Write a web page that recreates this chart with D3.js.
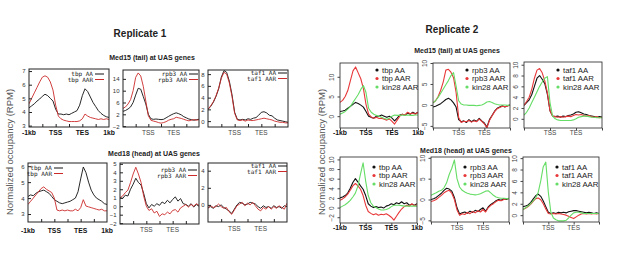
<!DOCTYPE html>
<html><head><meta charset="utf-8">
<script src="https://cdn.jsdelivr.net/npm/d3@7"></script>
<style>body{margin:0;background:#fff}svg{display:block}</style>
</head><body><svg id="c" width="617" height="256"></svg>
<script>
// ---- data ----
const positions = [0,0.1,0.2,0.3,0.4,0.5,0.6,0.7,0.8,0.9,1.0,1.1,1.2,1.3,1.4,1.5,1.6,1.7,1.8,1.9,2.0,2.1,2.2,2.3,2.4,2.5,2.6,2.7,2.8,2.9,3.0];
const fullTickLabels = ["-1kb","TSS","TES","1kb"];
const innerTickLabels = ["TSS","TES"];

// Replicate 1, Med15 (tail)
const r1_med15_tbp_AA   = [4.3,4.45,4.6,4.8,4.95,5.15,5.3,5.2,5.0,4.8,4.2,3.85,3.85,3.8,3.85,3.8,3.9,4.0,4.1,4.5,5.2,5.7,5.5,5.1,4.7,4.4,4.1,3.9,3.75,3.65,3.6];
const r1_med15_tbp_AAR  = [4.6,5.0,5.4,5.8,6.2,6.55,6.65,6.55,6.2,5.6,4.5,3.7,3.5,3.4,3.35,3.3,3.3,3.3,3.3,3.35,3.5,3.85,3.7,3.6,3.55,3.5,3.45,3.5,3.45,3.5,3.45];
const r1_med15_rpb3_AA  = [3.0,3.3,3.8,4.5,6.0,8.5,10.8,10.5,8.0,5.5,2.0,0.5,0.3,0.4,0.3,0.2,0.3,0.8,1.3,1.8,2.2,2.5,2.2,1.8,1.2,0.8,0.4,0.2,0.0,0.2,0.3];
const r1_med15_rpb3_AAR = [4.0,4.5,5.5,7.0,10.0,14.5,16.0,15.0,11.5,6.5,1.5,0.0,-0.3,-0.5,-0.8,-1.0,-0.8,-0.5,0.0,0.3,0.5,1.0,0.8,0.6,0.3,0.0,-0.2,0.0,0.2,0.0,0.2];
const r1_med15_taf1_AA  = [2.0,2.5,3.2,4.2,5.5,7.5,8.6,8.3,6.8,4.5,1.5,0.3,0.2,0.3,0.2,0.4,0.3,0.5,0.6,1.0,1.5,1.6,1.4,1.0,0.9,0.5,0.2,0.1,0.0,-0.1,-0.2];
const r1_med15_taf1_AAR = [2.0,2.6,3.3,4.3,5.6,7.3,8.3,8.0,6.5,4.2,1.3,0.2,0.1,0.2,0.0,0.2,0.1,0.1,0.2,0.3,0.4,0.5,0.4,0.3,0.2,0.0,-0.1,-0.2,-0.2,-0.3,-0.3];
// Replicate 1, Med18 (head)
const r1_med18_tbp_AA   = [4.1,4.2,4.15,4.3,4.4,4.45,4.5,4.4,4.3,4.1,3.9,3.8,3.7,3.65,3.7,3.75,3.8,3.9,4.0,4.4,5.2,5.95,5.6,5.0,4.5,4.2,4.0,3.9,3.8,3.65,3.6];
const r1_med18_tbp_AAR  = [3.6,3.8,4.0,4.2,4.4,4.6,4.7,4.55,4.45,4.35,4.0,3.25,3.2,3.25,3.2,3.25,3.2,3.2,3.3,3.2,3.4,3.9,3.5,3.45,3.4,3.35,3.3,3.25,3.3,3.2,3.2];
const r1_med18_rpb3_AA  = [1.0,0.9,1.3,1.2,2.0,2.6,3.3,2.8,2.5,1.5,0.3,-0.2,0.2,0.0,0.3,0.1,0.5,0.3,0.7,0.4,0.8,1.1,0.6,0.9,0.3,0.2,0.0,0.3,-0.1,0.2,0.0];
const r1_med18_rpb3_AAR = [1.0,1.2,1.6,1.9,2.8,3.8,4.6,3.8,2.8,1.2,0.0,-0.5,-0.3,-0.8,-0.6,-1.2,-0.9,-1.0,-0.7,-0.9,-0.5,-0.4,-0.7,-0.2,0.0,0.2,-0.1,0.2,0.0,0.3,0.1];
const r1_med18_taf1_AA  = [-0.3,-0.2,-0.4,-0.1,-0.2,0.0,-0.3,-0.5,-0.7,-1.0,-0.5,0.0,0.3,0.2,0.0,0.1,0.3,0.2,0.1,-0.2,-0.4,-0.1,-0.3,-0.2,-0.4,-0.1,-0.3,-0.2,-0.4,-0.1,-0.2];
const r1_med18_taf1_AAR = [-0.4,-0.1,-0.3,-0.2,0.1,-0.2,-0.4,-0.3,-0.8,-1.1,-0.6,-0.1,0.1,0.3,-0.1,0.2,0.0,0.3,-0.1,-0.5,-0.7,-0.3,-0.5,-0.2,-0.5,-0.2,-0.4,-0.1,-0.3,-0.5,0.2];
// Replicate 2, Med15 (tail)
const r2_med15_tbp_AA    = [1.2,1.3,1.5,2.0,2.5,3.0,3.5,3.2,2.8,2.3,1.2,0.0,-0.3,-0.5,0.0,0.0,0.3,0.0,-0.3,0.0,-0.5,-1.2,-0.5,0.3,0.5,0.2,0.8,0.5,1.0,0.6,1.0];
const r2_med15_tbp_AAR   = [3.5,4.0,5.0,6.5,9.0,11.5,12.5,11.0,9.5,7.0,3.0,0.5,-0.2,-0.5,-0.3,-0.6,-0.5,-0.8,-1.0,-0.7,-1.3,-2.0,-1.0,0.0,0.5,0.3,1.0,0.6,0.8,0.5,1.0];
const r2_med15_tbp_kin28 = [0.5,0.8,1.2,1.8,2.5,3.5,4.5,5.5,6.8,7.8,6.0,2.0,1.0,0.5,0.2,0.0,-0.3,-0.6,-0.8,-0.5,0.0,0.3,0.2,0.2,0.3,0.2,0.3,0.2,0.2,0.3,0.3];
const r2_med15_rpb3_AA    = [-0.5,-0.3,0.0,0.3,0.8,1.3,1.6,1.2,0.5,-0.5,-3.5,-4.0,-3.8,-4.2,-3.5,-4.0,-3.6,-3.9,-3.2,-3.8,-4.3,-5.3,-3.5,-2.5,-1.5,-0.8,-0.5,-0.2,-0.5,-0.2,0.0];
const r2_med15_rpb3_AAR   = [0.5,1.0,2.0,3.5,5.5,8.3,8.5,7.8,6.5,3.0,-3.0,-4.2,-3.9,-4.0,-3.7,-4.1,-3.8,-4.0,-3.4,-3.9,-4.5,-5.5,-3.7,-2.6,-1.6,-0.9,-0.6,-0.3,-0.4,-0.3,0.0];
const r2_med15_rpb3_kin28 = [0.5,1.0,1.8,2.8,3.8,4.8,5.8,7.0,7.7,4.5,1.0,0.2,0.0,0.0,-0.1,-0.1,-0.1,-0.2,-0.1,0.0,0.3,0.7,0.8,0.6,0.3,0.1,0.0,0.0,0.0,-0.1,0.0];
const r2_med15_taf1_AA    = [2.5,3.0,3.5,4.5,6.0,7.5,8.0,7.3,6.5,4.5,1.5,0.5,0.4,0.5,0.3,0.5,0.4,0.6,0.7,0.9,1.2,1.3,1.1,0.9,0.8,0.6,0.5,0.4,0.3,0.4,0.3];
const r2_med15_taf1_AAR   = [2.5,3.2,4.0,5.5,7.5,9.0,9.3,8.5,7.0,4.8,1.5,0.5,0.4,0.3,0.4,0.3,0.4,0.5,0.4,0.6,0.8,0.7,0.8,0.6,0.5,0.6,0.4,0.3,0.4,0.2,0.3];
const r2_med15_taf1_kin28 = [0.7,1.2,2.0,3.0,4.0,5.0,6.0,6.8,7.5,7.8,3.0,0.5,0.0,-0.2,-0.3,-0.3,-0.3,-0.3,-0.3,-0.2,0.0,0.3,0.4,0.5,0.5,0.4,0.3,0.3,0.2,0.2,0.2];
// Replicate 2, Med18 (head)
const r2_med18_tbp_AA    = [2.0,2.2,2.5,3.0,4.0,5.2,6.0,5.3,4.5,3.8,2.5,0.8,0.3,0.0,0.2,0.0,0.1,-0.1,0.3,0.5,0.8,0.6,1.0,0.8,1.2,0.8,1.0,0.5,0.7,0.5,0.8];
const r2_med18_tbp_AAR   = [1.5,1.8,2.2,2.8,3.6,4.5,5.0,4.5,3.8,2.5,0.5,-0.8,-1.2,-1.5,-1.3,-1.6,-1.4,-1.5,-1.3,-1.6,-2.0,-2.6,-1.8,-1.0,-0.3,0.2,0.5,0.3,0.8,0.4,0.6];
const r2_med18_tbp_kin28 = [0.0,0.3,0.6,1.0,1.5,2.2,3.0,4.5,7.0,9.3,5.5,2.5,1.0,0.3,0.0,-0.3,-0.5,-0.5,-0.4,-0.2,0.2,0.5,0.5,0.5,0.4,0.3,0.3,0.3,0.3,0.3,0.3];
const r2_med18_rpb3_AA    = [0.0,0.2,0.5,1.0,1.5,2.2,2.7,2.5,2.0,0.5,-2.0,-3.5,-3.2,-3.0,-3.3,-2.8,-3.1,-2.6,-2.9,-2.4,-2.0,-2.8,-1.8,-1.2,-0.8,-0.3,0.0,-0.2,0.2,0.0,0.3];
const r2_med18_rpb3_AAR   = [-0.5,-0.3,0.0,0.5,1.0,1.6,2.0,2.2,1.5,0.0,-2.5,-3.8,-3.4,-3.6,-3.1,-3.4,-2.9,-3.2,-2.7,-3.0,-2.4,-3.0,-2.0,-1.4,-1.0,-0.5,-0.2,-0.3,0.0,0.2,0.2];
const r2_med18_rpb3_kin28 = [1.0,1.3,1.6,2.0,2.2,2.8,4.0,6.0,7.5,9.5,5.0,3.0,2.2,1.8,1.5,1.3,1.2,1.1,1.2,1.4,1.7,2.0,2.1,1.6,1.0,0.6,0.4,0.3,0.3,0.2,0.2];
const r2_med18_taf1_AA    = [1.5,1.6,1.8,2.2,2.8,3.4,3.7,3.3,2.5,1.5,0.5,0.3,0.4,0.3,0.5,0.4,0.5,0.4,0.6,0.7,0.8,0.8,0.7,0.6,0.5,0.4,0.5,0.4,0.3,0.4,0.3];
const r2_med18_taf1_AAR   = [1.0,1.2,1.5,1.9,2.4,2.9,3.0,2.7,2.0,1.1,0.3,0.2,0.3,0.2,0.3,0.2,0.1,0.0,-0.2,-0.4,-0.6,-0.3,0.0,0.2,0.3,0.2,0.3,0.2,0.3,0.2,0.3];
const r2_med18_taf1_kin28 = [1.0,1.3,1.6,2.0,2.5,3.0,4.0,6.0,8.5,9.3,4.0,0.5,-0.5,-0.8,-1.0,-1.0,-1.0,-0.9,-0.5,0.0,0.4,0.5,0.5,0.4,0.3,0.3,0.3,0.3,0.3,0.3,0.3];

// ---- layout / style ----
const C1 = {black:"#111", red:"#cc2a2a"};
const C2 = {black:"#111", red:"#e8383a", green:"#66dd66"};

const panels = [
  {st:"gp", box:[29,69,109,127], yd:[2.9,7.15], yt:[3,4,5,6,7], xl:"full", lab:135,
   ser:[["tbp AA",r1_med15_tbp_AA,C1.black],["tbp AAR",r1_med15_tbp_AAR,C1.red]], lg:[93,74]},
  {st:"gp", box:[123,70,199,127], yd:[-2.3,17], yt:[-2,2,6,10,14], xl:"inner", lab:135,
   ser:[["rpb3 AA",r1_med15_rpb3_AA,C1.black],["rpb3 AAR",r1_med15_rpb3_AAR,C1.red]], lg:[187,74]},
  {st:"gp", box:[208,70,288,127], yd:[-1,8.7], yt:[0,2,4,6,8], xl:"inner", lab:135,
   ser:[["taf1 AA",r1_med15_taf1_AA,C1.black],["taf1 AAR",r1_med15_taf1_AAR,C1.red]], lg:[276,73]},
  {st:"gp", box:[28,163,107,222], yd:[2.5,6.2], yt:[3,4,5,6], xl:"full", lab:233,
   ser:[["tbp AA",r1_med18_tbp_AA,C1.black],["tbp AAR",r1_med18_tbp_AAR,C1.red]], lg:[52,168]},
  {st:"gp", box:[120,163,199,224], yd:[-2.1,5.1], yt:[-2,-1,0,1,2,3,4,5], xl:"inner", lab:232,
   ser:[["rpb3 AA",r1_med18_rpb3_AA,C1.black],["rpb3 AAR",r1_med18_rpb3_AAR,C1.red]], lg:[186,170]},
  {st:"gp", box:[208,163,287,222], yd:[-2,4.9], yt:[0,2,4], xl:"inner", lab:231,
   ser:[["taf1 AA",r1_med18_taf1_AA,C1.black],["taf1 AAR",r1_med18_taf1_AAR,C1.red]], lg:[276,166]},
  {st:"r", box:[340,63,418,128], yd:[-3,13.5], yt:[0,5,10], xl:"full", lab:135,
   ser:[["tbp AA",r2_med15_tbp_AA,C2.black],["tbp AAR",r2_med15_tbp_AAR,C2.red],["kin28 AAR",r2_med15_tbp_kin28,C2.green]], lg:[377,70]},
  {st:"r", box:[433,63,510,128], yd:[-5.5,10], yt:[-5,0,5,10], xl:"inner", lab:135,
   ser:[["rpb3 AA",r2_med15_rpb3_AA,C2.black],["rpb3 AAR",r2_med15_rpb3_AAR,C2.red],["kin28 AAR",r2_med15_rpb3_kin28,C2.green]], lg:[467,70]},
  {st:"r", box:[524,62,602,128], yd:[-1.7,10.5], yt:[0,2,4,6,8,10], xl:"inner", lab:135,
   ser:[["taf1 AA",r2_med15_taf1_AA,C2.black],["taf1 AAR",r2_med15_taf1_AAR,C2.red],["kin28 AAR",r2_med15_taf1_kin28,C2.green]], lg:[558,70]},
  {st:"r", box:[340,157,417,223], yd:[-3.2,10.5], yt:[-2,0,2,4,6,8,10], xl:"full", lab:230,
   ser:[["tbp AA",r2_med18_tbp_AA,C2.black],["tbp AAR",r2_med18_tbp_AAR,C2.red],["kin28 AAR",r2_med18_tbp_kin28,C2.green]], lg:[374,167]},
  {st:"r", box:[431,157,509,222], yd:[-5.4,10.2], yt:[-5,0,5,10], xl:"inner", lab:230,
   ser:[["rpb3 AA",r2_med18_rpb3_AA,C2.black],["rpb3 AAR",r2_med18_rpb3_AAR,C2.red],["kin28 AAR",r2_med18_rpb3_kin28,C2.green]], lg:[465,167]},
  {st:"r", box:[523,157,599,222], yd:[-1.2,10.2], yt:[0,2,4,6,8,10], xl:"inner", lab:230,
   ser:[["taf1 AA",r2_med18_taf1_AA,C2.black],["taf1 AAR",r2_med18_taf1_AAR,C2.red],["kin28 AAR",r2_med18_taf1_kin28,C2.green]], lg:[557,167]}
];

const svg = d3.select("#c");
const SANS = "'Liberation Sans', Arial, sans-serif";
const MONO = "'DejaVu Sans Mono', monospace";

function txt(x,y,s,o={}){
  return svg.append("text").attr("x",x).attr("y",y).text(s)
    .attr("font-family",o.ff||SANS).attr("font-size",o.fs||8)
    .attr("font-weight",o.fw||"normal").attr("fill",o.fill||"#222")
    .attr("text-anchor",o.anchor||"middle");
}
txt(140,37,"Replicate 1",{fs:10,fw:"bold",fill:"#222"});
txt(452,33,"Replicate 2",{fs:10,fw:"bold",fill:"#222"});
txt(152,60,"Med15 (tail) at UAS genes",{fs:7,fw:"bold"});
txt(457,53,"Med15 (tail) at UAS genes",{fs:7,fw:"bold"});
txt(154,156,"Med18 (head) at UAS genes",{fs:7,fw:"bold"});
txt(466,153,"Med18 (head) at UAS genes",{fs:7,fw:"bold"});
txt(0,0,"Normalized occupancy (RPM)",{fs:9.5,fill:"#555"}).attr("transform","translate(13,152) rotate(-90)");
txt(0,0,"Normalized occupancy (RPM)",{fs:9.5,fill:"#555"}).attr("transform","translate(325,152) rotate(-90)");

panels.forEach(p=>{
  const [l,t,r,b] = p.box;
  const x = d3.scaleLinear().domain([0,3]).range([l,r]);
  const y = d3.scaleLinear().domain(p.yd).range([b,t]);
  const g = svg.append("g");
  const clipId = "clip"+l+"_"+t;
  svg.append("clipPath").attr("id",clipId).append("rect").attr("x",l).attr("y",t).attr("width",r-l).attr("height",b-t);

  const line = d3.line().x((d,i)=>x(positions[i])).y(d=>y(d));
  p.ser.forEach(s=>{
    g.append("path").datum(s[1]).attr("d",line).attr("fill","none")
     .attr("stroke",s[2]).attr("stroke-width",p.st==="gp"?0.9:1.1)
     .attr("stroke-linejoin","round").attr("clip-path","url(#"+clipId+")");
  });

  g.append("rect").attr("x",l).attr("y",t).attr("width",r-l).attr("height",b-t)
   .attr("fill","none").attr("stroke","#222").attr("stroke-width",p.st==="gp"?1:0.8);

  if(p.st==="gp"){
    const ya = d3.axisLeft(y).tickValues(p.yt).tickSize(-3).tickPadding(3.5).tickFormat(d3.format("d"));
    const ax = g.append("g").attr("transform",`translate(${l},0)`).call(ya);
    ax.select(".domain").remove();
    ax.selectAll("line").attr("stroke","#222");
    ax.selectAll("text").attr("font-family",SANS).attr("font-size",6).attr("fill","#333");
    const xa = d3.axisBottom(x).tickValues([0.5,1,1.5,2,2.5]).tickSize(-3).tickFormat("");
    const bx = g.append("g").attr("transform",`translate(0,${b})`).call(xa);
    bx.select(".domain").remove();
    bx.selectAll("line").attr("stroke","#222");
    p.ser.forEach((s,i)=>{
      const ly = p.lg[1] + i*5.5;
      g.append("text").attr("x",p.lg[0]).attr("y",ly+2).text(s[0])
       .attr("font-family",MONO).attr("font-size",6).attr("fill","#222").attr("text-anchor","end");
      g.append("line").attr("x1",p.lg[0]+2).attr("x2",p.lg[0]+11).attr("y1",ly).attr("y2",ly)
       .attr("stroke",s[2]).attr("stroke-width",1);
    });
  } else {
    const ya = d3.axisLeft(y).tickValues(p.yt).tickSize(2.5).tickPadding(2).tickFormat(d3.format("d"));
    const ax = g.append("g").attr("transform",`translate(${l},0)`).call(ya);
    ax.select(".domain").remove();
    ax.selectAll("line").attr("stroke","#444");
    ax.selectAll("text").attr("font-family",SANS).attr("font-size",6.5).attr("fill","#444")
      .attr("text-anchor","middle").attr("dy","0").attr("x",0)
      .attr("transform","translate(-6,0) rotate(-90)");
    const xa = d3.axisBottom(x).tickValues([0,1,2,3]).tickSize(2.5).tickFormat("");
    const bx = g.append("g").attr("transform",`translate(0,${b})`).call(xa);
    bx.select(".domain").remove();
    bx.selectAll("line").attr("stroke","#444");
    p.ser.forEach((s,i)=>{
      const ly = p.lg[1] + i*8.5;
      g.append("circle").attr("cx",p.lg[0]).attr("cy",ly).attr("r",1.6).attr("fill",s[2]);
      g.append("text").attr("x",p.lg[0]+5).attr("y",ly+2.8).text(s[0])
       .attr("font-family",SANS).attr("font-size",7.8).attr("fill","#222");
    });
  }

  if(p.xl==="full"){
    fullTickLabels.forEach((s,i)=>{
      g.append("text").attr("x",x(i)).attr("y",p.lab).text(s)
       .attr("font-family",SANS).attr("font-size",6.8).attr("font-weight","bold")
       .attr("fill","#111").attr("text-anchor","middle");
    });
  } else {
    innerTickLabels.forEach((s,i)=>{
      g.append("text").attr("x",x(i+1)).attr("y",p.lab).text(s)
       .attr("font-family",SANS).attr("font-size",6.5).attr("fill","#444").attr("text-anchor","middle");
    });
  }
});
</script>
</body></html>
